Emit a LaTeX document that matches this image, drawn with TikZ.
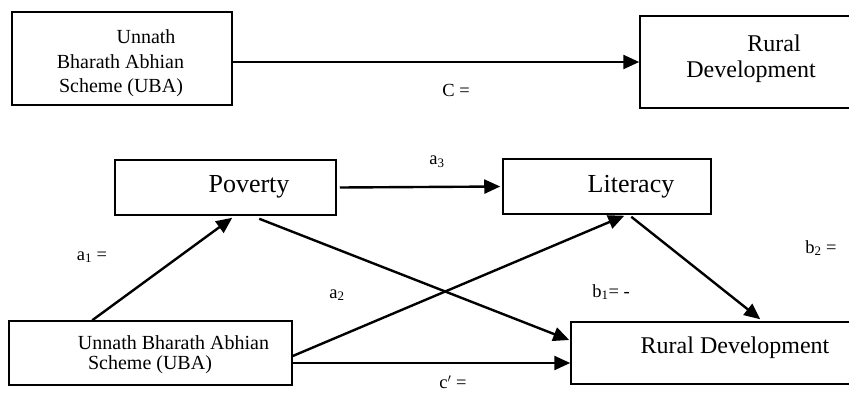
\documentclass[tikz,border=0pt]{standalone}
\usepackage{fontspec}
\setmainfont{Liberation Serif}
\usetikzlibrary{arrows.meta,calc}
\tikzset{
  box/.style={draw, line width=1.5pt, rectangle, inner sep=0pt},
  conn/.style={line width=2.4pt, -{Triangle[length=16pt,width=14pt]}},
  lbl/.style={inner sep=0pt, font=\fontsize{18.5}{20}\selectfont},
  txtA/.style={inner sep=0pt, font=\fontsize{20}{22}\selectfont},
  txtB/.style={inner sep=0pt, font=\fontsize{24}{26}\selectfont},
  txtC/.style={inner sep=0pt, font=\fontsize{26}{28}\selectfont}
}
\begin{document}
\begin{tikzpicture}[x=1pt,y=-1pt]
\useasboundingbox (0,0) rectangle (849,392);
\clip (0,0) rectangle (849,392);
% boxes
\node[box, minimum width=220pt, minimum height=93pt] (ubaT) at (122,58.5) {};
\node[box, minimum width=220pt, minimum height=92pt] (rdT) at (750,62) {};
\node[box, minimum width=221pt, minimum height=55pt] (pov) at (225.5,187.5) {};
\node[box, minimum width=208pt, minimum height=55pt] (lit) at (607,186.5) {};
\node[box, minimum width=283pt, minimum height=64pt] (ubaB) at (150.5,353) {};
\node[box, minimum width=290pt, minimum height=62pt] (rdB) at (716,353) {};
% texts
\node[txtA] (t1) at (146,37) {Unnath};
\node[txtA] (t2) at (120.5,62) {Bharath Abhian};
\node[txtA] (t3) at (121,88) {Scheme (UBA)};
\node[txtB] (t4) at (774,43) {Rural};
\node[txtB] (t5) at (751,72) {Development};
\node[txtC] (t6) at (249,187) {Poverty};
\node[txtC] (t7) at (631,187) {Literacy};
\node[txtA] (t8) at (173.5,343) {Unnath Bharath Abhian};
\node[txtA] (t9) at (150,365) {Scheme (UBA)};
\node[txtB] (t10) at (735,348) {Rural Development};
% labels
\node[lbl] (lC) at (456,90) {C =};
\node[lbl] (la3) at (437,162) {a\textsubscript{3}};
\node[lbl] (la1) at (92,257) {a\textsubscript{1} =};
\node[lbl] (la2) at (337,295) {a\textsubscript{2}};
\node[lbl] (lb1) at (611,292) {b\textsubscript{1}= -};
\node[lbl] (lb2) at (821,248) {b\textsubscript{2} =};
\node[lbl] (lc) at (453,382) {c$'$ =};
% connectors
\draw[conn] (ubaT.east |- rdT.west) -- (rdT.west);
\draw[conn] ($(pov.east)+(3,0)$) -- ($(lit.west)+(-2,0)$);
\draw[conn] ($(ubaB.north west)+(84,0)$) -- ($(pov.south west)+(118,2)$);
\draw[conn] ($(pov.south west)+(145,3)$) -- ($(rdB.west)+(-1,-13)$);
\draw[conn] ($(ubaB.east)+(0,3)$) -- ($(lit.south west)+(122,1)$);
\draw[conn] ($(ubaB.east)+(0,10)$) -- (rdB.west |- {$(ubaB.east)+(0,10)$});
\draw[conn] ($(lit.south west)+(129,2)$) -- ($(rdB.north west)+(190,-2)$);
\end{tikzpicture}
\end{document}
